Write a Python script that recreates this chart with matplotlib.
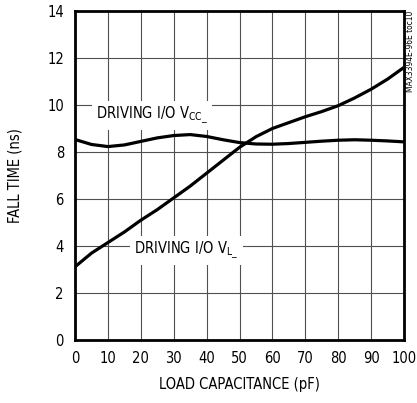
#!/usr/bin/env python3
"""Fall time vs load capacitance (MAX3394E-96E toc10 style)."""

import matplotlib as mpl
mpl.use("Agg")
import matplotlib.pyplot as plt
from matplotlib import font_manager

# data
load_pf = [0, 5, 10, 15, 20, 25, 30, 35, 40, 45, 50, 55, 60, 65, 70, 75, 80, 85, 90, 95, 100]
fall_vcc = [8.53, 8.32, 8.23, 8.3, 8.45, 8.6, 8.7, 8.74, 8.66, 8.52, 8.4, 8.34, 8.33,
            8.36, 8.41, 8.46, 8.5, 8.52, 8.5, 8.47, 8.43]
fall_vl = [3.12, 3.7, 4.15, 4.6, 5.1, 5.55, 6.05, 6.55, 7.1, 7.65, 8.2, 8.65, 9.0,
           9.25, 9.5, 9.72, 9.97, 10.3, 10.67, 11.1, 11.6]
x_ticks = list(range(0, 101, 10))
y_ticks = list(range(0, 15, 2))

# pick a narrow sans face if one exists, the reference uses a condensed Helvetica
fonts = font_manager.fontManager.ttflist
narrow = [f for f in fonts if f.name == "Liberation Sans Narrow"]
condensed = [f for f in fonts if f.name == "DejaVu Sans" and f.stretch == "condensed"]
if narrow:
    plt.rcParams["font.family"] = ["Liberation Sans Narrow", "DejaVu Sans"]
    FS = 12
elif condensed:
    plt.rcParams["font.family"] = ["DejaVu Sans"]
    plt.rcParams["font.stretch"] = "condensed"
    FS = 10.5
else:
    plt.rcParams["font.family"] = ["Liberation Sans", "DejaVu Sans"]
    FS = 10

fig = plt.figure(figsize=(4.17, 4.03), dpi=100)
ax = fig.add_axes([0.18, 0.156, 0.789, 0.817])

ax.plot(load_pf, fall_vcc, color="black", lw=2.3, solid_capstyle="butt", zorder=3)
ax.plot(load_pf, fall_vl, color="black", lw=2.3, solid_capstyle="butt", zorder=3)

ax.set_xlim(0, 100)
ax.set_ylim(0, 14)
ax.set_xticks(x_ticks)
ax.set_yticks(y_ticks)
ax.grid(True, color="#505050", lw=0.8)
ax.set_axisbelow(True)
for sp in ax.spines.values():
    sp.set_linewidth(2.0)
ax.tick_params(length=0, labelsize=FS, pad=8)

ax.set_xlabel("LOAD CAPACITANCE (pF)", fontsize=FS, labelpad=8)
ax.set_ylabel("FALL TIME (ns)", fontsize=FS, labelpad=18)

box = dict(facecolor="white", edgecolor="none", pad=3)
ax.text(6.5, 9.55, "DRIVING I/O V$_{\\mathregular{CC\\_}}$", fontsize=FS, va="center",
        ha="left", bbox=box, zorder=4)
ax.text(18.0, 3.8, "DRIVING I/O V$_{\\mathregular{L\\_}}$", fontsize=FS, va="center",
        ha="left", bbox=box, zorder=4)

fig.text(0.985, 0.973, "MAX3394E-96E toc10", rotation=90, fontsize=6,
         ha="center", va="top")

fig.savefig("out.png", dpi=100)
